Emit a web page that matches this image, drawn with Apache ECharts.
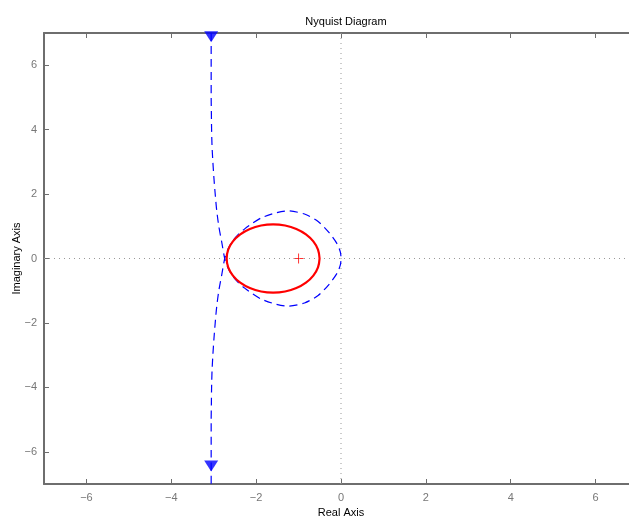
<!DOCTYPE html>
<html>
<head>
<meta charset="utf-8">
<script src="https://cdn.jsdelivr.net/npm/echarts@6/dist/echarts.min.js"></script>
<style>html,body{margin:0;padding:0;background:#fff;}#c{width:629px;height:522px;}</style>
</head>
<body>
<div id="c"></div>
<script>
// Blue dashed Nyquist curve, traced as one path:
// upper tail (x -> -3.06 as Im -> +inf) down through the crossing, lower half of loop,
// through the origin, upper half of loop, back through the crossing, lower tail.
const nyqTailUpper = [
  [-3.06, 7.0], [-3.06, 6.0], [-3.06, 5.0], [-3.055, 4.5], [-3.05, 4.0], [-3.04, 3.5],
  [-3.02, 3.0], [-2.995, 2.5], [-2.965, 2.0], [-2.93, 1.5], [-2.88, 1.0], [-2.81, 0.5]
];
const nyqLoopLower = [
  [-2.74, 0.0], [-2.66, -0.3], [-2.55, -0.55], [-2.42, -0.75], [-2.27, -0.92],
  [-2.08, -1.1], [-1.88, -1.26], [-1.56, -1.41], [-1.25, -1.48], [-0.86, -1.38],
  [-0.54, -1.15], [-0.28, -0.80], [-0.09, -0.45], [-0.015, -0.2], [0.0, 0.0]
];
const nyqLoopUpper = [
  [-0.015, 0.2], [-0.09, 0.45], [-0.28, 0.80], [-0.54, 1.15], [-0.86, 1.38],
  [-1.25, 1.48], [-1.56, 1.41], [-1.88, 1.26], [-2.08, 1.1], [-2.27, 0.92],
  [-2.42, 0.75], [-2.55, 0.55], [-2.66, 0.3], [-2.74, 0.0]
];
const nyqTailLower = [
  [-2.81, -0.5], [-2.88, -1.0], [-2.93, -1.5], [-2.965, -2.0], [-2.995, -2.5],
  [-3.02, -3.0], [-3.04, -3.5], [-3.05, -4.0], [-3.055, -4.5], [-3.06, -5.0],
  [-3.06, -6.0], [-3.06, -7.0]
];
// Direction arrows on the blue curve
const arrowPoints = [[-3.06, 6.88], [-3.06, -6.44]];
// Red solid closed curve
const redCurve = [
  [-0.505, 0.0], [-0.542, 0.274], [-0.652, 0.53], [-0.826, 0.75], [-1.052, 0.918],
  [-1.317, 1.024], [-1.6, 1.06], [-1.883, 1.024], [-2.148, 0.918], [-2.374, 0.75],
  [-2.548, 0.53], [-2.658, 0.274], [-2.695, 0.0], [-2.658, -0.274], [-2.548, -0.53],
  [-2.374, -0.75], [-2.148, -0.918], [-1.883, -1.024], [-1.6, -1.06], [-1.317, -1.024],
  [-1.052, -0.918], [-0.826, -0.75], [-0.652, -0.53], [-0.542, -0.274], [-0.505, 0.0]
];
// Critical point -1 + 0j
const criticalPoint = [[-1, 0]];
// Zero reference lines
const realZeroLine = [[-7, 0], [7, 0]];
const imagZeroLine = [[0, -7], [0, 7]];
// Tick values
const xTicks = [-6, -4, -2, 0, 2, 4, 6];
const yTicks = [-6, -4, -2, 0, 2, 4, 6];

const nyqPath = nyqTailUpper.concat(nyqLoopLower, nyqLoopUpper, nyqTailLower);

const chart = echarts.init(document.getElementById('c'), null, {renderer: 'canvas'});
const axisColor = '#6e6e6e';
const labelColor = '#777';
const fontFam = '"Liberation Sans", Arial, Helvetica, sans-serif';
const fmt = v => String(v).replace('-', '\u2212');

const baseX = {
  type: 'value', min: -7, max: 7,
  axisLine: {show: true, onZero: false, lineStyle: {color: axisColor, width: 2}},
  axisTick: {show: true, inside: true, length: 5, customValues: xTicks, lineStyle: {color: axisColor, width: 1}},
  splitLine: {show: false}
};
const baseY = {
  type: 'value', min: -7, max: 7,
  axisLine: {show: true, onZero: false, lineStyle: {color: axisColor, width: 2}},
  axisTick: {show: true, inside: true, length: 5, customValues: yTicks, lineStyle: {color: axisColor, width: 1}},
  splitLine: {show: false}
};

chart.setOption({
  animation: false,
  backgroundColor: '#fff',
  title: {
    text: 'Nyquist Diagram', left: 341, top: 11, textAlign: 'center',
    textStyle: {fontFamily: fontFam, fontSize: 11, fontWeight: 'normal', color: '#000'}
  },
  grid: {left: 44, top: 33, right: -9, bottom: 38, containLabel: false, outerBoundsMode: 'none'},
  xAxis: [
    Object.assign({}, baseX, {
      position: 'bottom',
      name: 'Real Axis', nameLocation: 'middle', nameGap: 23,
      nameTextStyle: {fontFamily: fontFam, fontSize: 11, color: '#000'},
      axisLabel: {show: true, customValues: xTicks, formatter: fmt, margin: 8,
        fontFamily: fontFam, fontSize: 11, color: labelColor}
    }),
    Object.assign({}, baseX, {position: 'top', axisLabel: {show: false}})
  ],
  yAxis: [
    Object.assign({}, baseY, {
      position: 'left',
      name: 'Imaginary Axis', nameLocation: 'middle', nameGap: 22, nameRotate: 90,
      nameMoveOverlap: false,
      nameTextStyle: {fontFamily: fontFam, fontSize: 11, color: '#000'},
      axisLabel: {show: true, customValues: yTicks, formatter: fmt, margin: 7,
        fontFamily: fontFam, fontSize: 11, color: labelColor}
    })
  ],
  series: [
    {type: 'line', data: realZeroLine, symbol: 'none', silent: true,
      lineStyle: {color: '#999', width: 1, type: [1, 4]}},
    {type: 'line', data: imagZeroLine, symbol: 'none', silent: true,
      lineStyle: {color: '#999', width: 1, type: [1, 4]}},
    {type: 'line', data: nyqPath, symbol: 'none', smooth: 0.25, clip: true,
      lineStyle: {color: '#0000ff', width: 1.2, type: [8, 5]}},
    {type: 'line', data: redCurve, symbol: 'none', smooth: 0.4,
      lineStyle: {color: '#ff0000', width: 2.2}},
    {type: 'scatter', data: arrowPoints, symbol: 'triangle', symbolRotate: 180, symbolSize: [14, 11],
      itemStyle: {color: '#0000ff'}},
    {type: 'scatter', data: criticalPoint, symbol: 'path://M0,5 L10,5 M5,0 L5,10', symbolSize: 10,
      itemStyle: {color: 'none', borderColor: '#ff0000', borderWidth: 1}}
  ]
});
</script>
</body>
</html>
